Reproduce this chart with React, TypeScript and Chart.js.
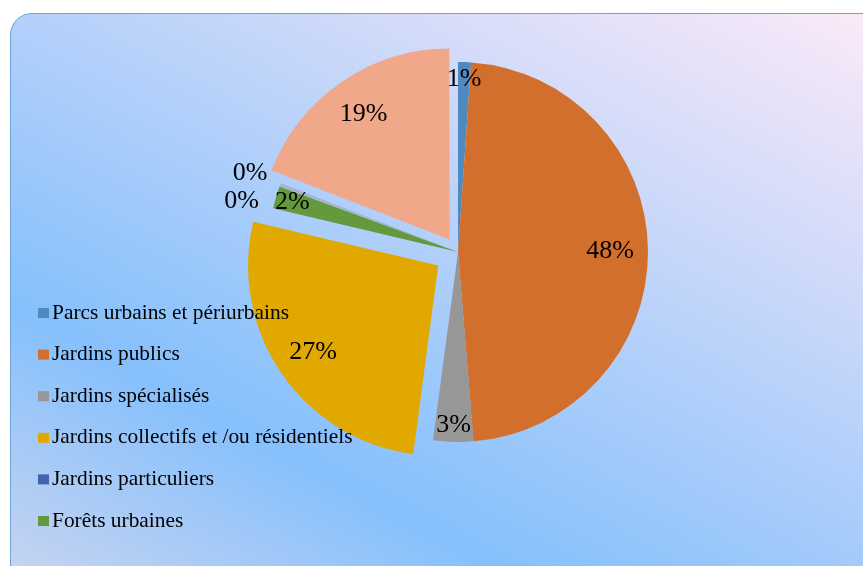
import React, { useEffect, useRef } from "react";
import { Chart, registerables } from "chart.js";

Chart.register(...registerables);

// Categories (the last two are not shown in the original legend)
const categories: string[] = [
  "Parcs urbains et périurbains",
  "Jardins publics",
  "Jardins spécialisés",
  "Jardins collectifs et /ou résidentiels",
  "Jardins particuliers",
  "Forêts urbaines",
  "Autre (non légendé)",
  "Autre (non légendé) 2",
];

// Share of each category (percent)
const values: number[] = [1.1, 47.6, 3.4, 26.6, 0, 1.9, 0.3, 19.1];

// How many legend entries are visible in the original
const legendCount = 6;

const colors: string[] = [
  "#4f89bd",
  "#d36f2c",
  "#979797",
  "#e1a900",
  "#3f64ad",
  "#64993d",
  "#a3b5d2",
  "#f0a78a",
];

// Explosion distance (px) of each slice
const explode: number[] = [0, 0, 0, 24, 0, 0, 0, 15];

const SERIF = "'Liberation Serif', 'Times New Roman', serif";

const labelPlugin = {
  id: "pieLabels",
  afterDatasetsDraw(chart: any) {
    const ctx = chart.ctx;
    const meta = chart.getDatasetMeta(0);
    const total = values.reduce((a, b) => a + b, 0);
    ctx.save();
    ctx.font = `26px ${SERIF}`;
    ctx.fillStyle = "#000";
    ctx.textAlign = "center";
    ctx.textBaseline = "middle";
    meta.data.forEach((arc: any, i: number) => {
      const p = arc.getProps(["x", "y", "startAngle", "endAngle", "outerRadius"], true);
      const mid = (p.startAngle + p.endAngle) / 2;
      const pct = (values[i] / total) * 100;
      const rf = pct >= 10 ? 0.8 : pct >= 0.5 ? 0.91 : 1.17;
      const d = explode[i] + p.outerRadius * rf;
      const lx = p.x + Math.cos(mid) * d;
      const ly = p.y + Math.sin(mid) * d;
      ctx.fillText(`${Math.round(pct)}%`, lx, ly);
    });
    ctx.restore();
  },
};

const legendPlugin = {
  id: "customLegend",
  afterDraw(chart: any) {
    const ctx = chart.ctx;
    ctx.save();
    ctx.font = `21.4px ${SERIF}`;
    ctx.textAlign = "left";
    ctx.textBaseline = "middle";
    const x0 = 38;
    const y0 = 313;
    const step = 41.6;
    for (let i = 0; i < legendCount; i++) {
      const y = y0 + i * step;
      ctx.fillStyle = colors[i];
      ctx.fillRect(x0, y - 5, 11, 10);
      ctx.fillStyle = "#000";
      ctx.fillText(categories[i], x0 + 14, y);
    }
    ctx.restore();
  },
};

export default function App() {
  const canvasRef = useRef<HTMLCanvasElement | null>(null);

  useEffect(() => {
    if (!canvasRef.current) return;
    const chart = new Chart(canvasRef.current, {
      type: "pie",
      data: {
        labels: categories,
        datasets: [
          {
            data: values,
            backgroundColor: colors,
            borderWidth: 0,
            offset: explode.map((e) => e * 4),
            hoverOffset: 0,
          } as any,
        ],
      },
      options: {
        responsive: false,
        animation: false,
        radius: 190,
        layout: { padding: { left: 60, right: 7, top: 10, bottom: 72 } },
        plugins: {
          legend: { display: false },
          tooltip: { enabled: false },
        },
      } as any,
      plugins: [labelPlugin, legendPlugin],
    });
    return () => chart.destroy();
  }, []);

  return (
    <div
      style={{
        position: "fixed",
        left: 0,
        top: 0,
        width: 863,
        height: 566,
        overflow: "hidden",
        background: "#ffffff",
      }}
    >
      <div
        style={{
          position: "absolute",
          left: 10,
          top: 13,
          width: 875,
          height: 575,
          boxSizing: "border-box",
          border: "1px solid #6ea2da",
          borderRadius: 22,
          background:
            "linear-gradient(28deg, #cad5ef 0%, #86c0fd 27%, #93c5fb 36%, #fdeaf8 100%)",
        }}
      />
      <canvas
        ref={canvasRef}
        width={863}
        height={566}
        style={{ position: "absolute", left: 0, top: 0 }}
      />
    </div>
  );
}
